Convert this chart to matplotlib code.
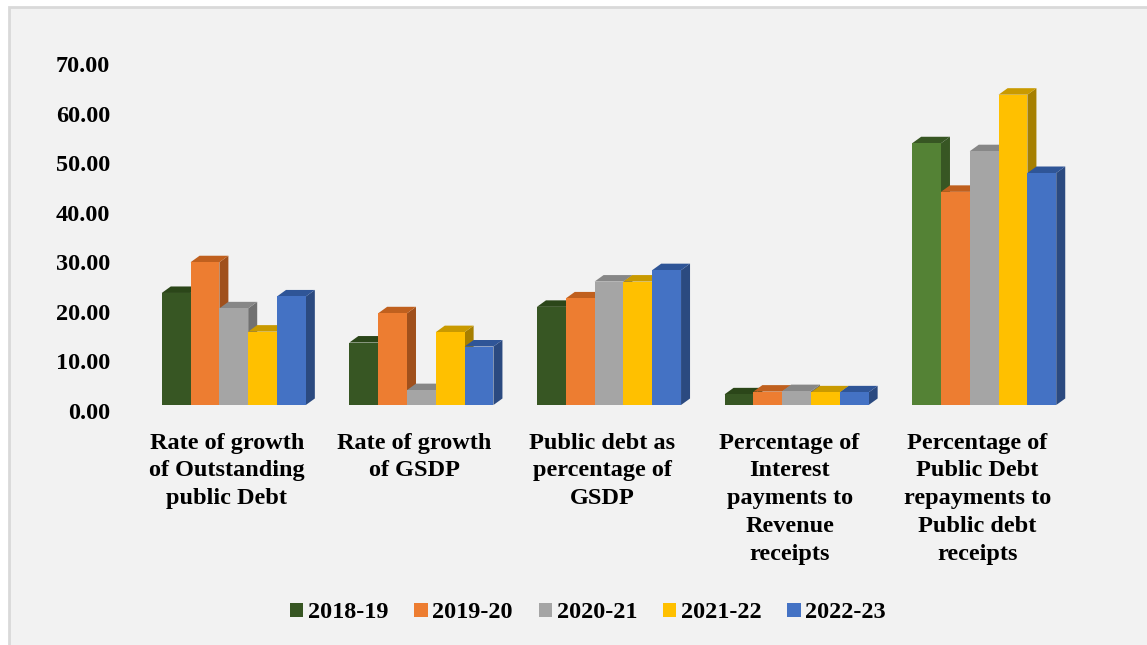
import matplotlib.pyplot as plt
import matplotlib.transforms as mtransforms
from matplotlib.patches import Polygon, Patch, Rectangle

# --- data ---
categories = [
    "Rate of growth\nof Outstanding\npublic Debt",
    "Rate of growth\nof GSDP",
    "Public debt as\npercentage of\nGSDP",
    "Percentage of\nInterest\npayments to\nRevenue\nreceipts",
    "Percentage of\nPublic Debt\nrepayments to\nPublic debt\nreceipts",
]
years = ["2018-19", "2019-20", "2020-21", "2021-22", "2022-23"]

v_2018_19 = [22.60, 12.60, 19.80, 2.15, 52.80]
v_2019_20 = [28.80, 18.50, 21.50, 2.70, 43.00]
v_2020_21 = [19.50, 3.00, 24.90, 2.80, 51.20]
v_2021_22 = [14.80, 14.70, 24.90, 2.55, 62.60]
v_2022_23 = [21.90, 11.80, 27.20, 2.55, 46.80]
series = [v_2018_19, v_2019_20, v_2020_21, v_2021_22, v_2022_23]

yticks = [0, 10, 20, 30, 40, 50, 60, 70]

# front / top / side shades for each year
front = ["#375623", "#ED7D31", "#A5A5A5", "#FFC000", "#4472C4"]
top = ["#2B4619", "#C0601E", "#878787", "#C99A00", "#2F5597"]
side = ["#2C451C", "#A0501C", "#717171", "#A67F00", "#2B4A80"]

W, H, DPI = 1147, 645, 100
fig = plt.figure(figsize=(W / DPI, H / DPI), dpi=DPI)
fig.patch.set_facecolor("white")

# panel background with left/top border
fig.patches.append(Rectangle((9 / W, -0.1), 1.2, (H - 7) / H + 0.1,
                             transform=fig.transFigure, facecolor="#F2F2F2",
                             edgecolor="#D9D9D9", linewidth=2, zorder=-5))

ax_l, ax_r, ax_t, ax_b = 140, 1078, 58, 405
ax = fig.add_axes([ax_l / W, (H - ax_b) / H, (ax_r - ax_l) / W, (ax_b - ax_t) / H])
ax.set_facecolor("none")
ax.set_xlim(-0.5, len(categories) - 0.5)
ax.set_ylim(0, 70)

# depth offsets of the 3D effect, in data units
px_x = (ax_r - ax_l) / len(categories)
px_y = (ax_b - ax_t) / 70
dx = 9 / px_x
dy = 6.5 / px_y

bw = 0.1536
for g in range(len(categories)):
    for i, vals in enumerate(series):
        v = vals[g]
        x0 = g + (i - 2) * bw - bw / 2
        x1 = x0 + bw
        fc, tc, sc = front[i], top[i], side[i]
        if i == 0 and g == len(categories) - 1:
            fc, tc, sc = "#548235", "#375623", "#375623"
        ax.add_patch(Polygon([(x1, 0), (x1 + dx, dy), (x1 + dx, v + dy), (x1, v)],
                             closed=True, facecolor=sc, edgecolor="none"))
        ax.add_patch(Polygon([(x0, v), (x0 + dx, v + dy), (x1 + dx, v + dy), (x1, v)],
                             closed=True, facecolor=tc, edgecolor="none"))
        ax.bar(x0, v, width=bw, align="edge", color=fc, edgecolor="none")

for s in ax.spines.values():
    s.set_visible(False)

font = dict(family="Liberation Serif", weight="bold", size=17.5)

ax.set_yticks(yticks)
ax.set_yticklabels([f"{t:.2f}" for t in yticks], **font)
ax.tick_params(axis="y", length=0, pad=21.5)
for lab in ax.get_yticklabels():
    lab.set_transform(lab.get_transform() +
                      mtransforms.ScaledTranslation(0, -6 / DPI, fig.dpi_scale_trans))

ax.set_xticks(range(len(categories)))
ax.set_xticklabels(categories, linespacing=1.42, **font)
ax.tick_params(axis="x", length=0, pad=20)
for lab in ax.get_xticklabels():
    lab.set_transform(lab.get_transform() +
                      mtransforms.ScaledTranslation(-7 / DPI, 0, fig.dpi_scale_trans))

handles = [Patch(facecolor=c, edgecolor="none") for c in front]
fig.legend(handles, years, loc="center", bbox_to_anchor=(588 / W, 1 - 613 / H),
           ncol=5, frameon=False, prop=dict(family="Liberation Serif", weight="bold", size=17.5),
           handlelength=0.55, handleheight=0.55, handletextpad=0.2, columnspacing=1.05)

fig.savefig("out.png", dpi=DPI)
